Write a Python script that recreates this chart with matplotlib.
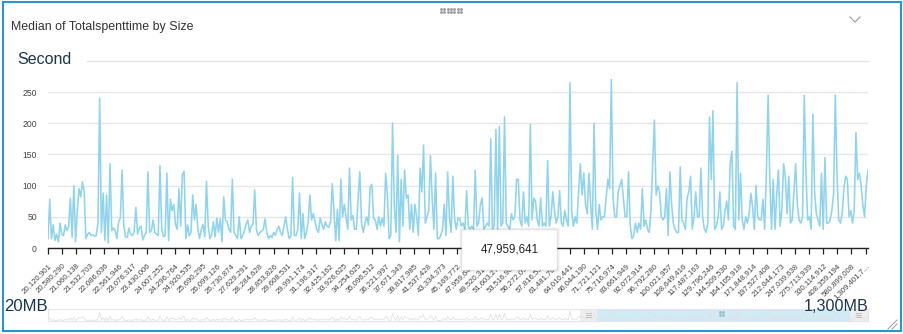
import numpy as np
import matplotlib
matplotlib.use("Agg")
import matplotlib.pyplot as plt
from matplotlib.patches import Rectangle, FancyBboxPatch
from matplotlib.lines import Line2D

W, H = 904, 334

# median total spent time (seconds) left to right
median_seconds = [
    15, 78, 15, 37, 12, 22, 10, 40, 22, 20, 37, 28, 35, 80, 17, 100, 10, 60, 95, 82,
    106, 90, 15, 22, 25, 20, 21, 19, 20, 40, 240, 25, 88, 12, 85, 8, 135, 28, 32, 28,
    15, 42, 48, 125, 35, 18, 17, 32, 22, 20, 26, 65, 22, 32, 35, 13, 20, 25, 122, 25,
    28, 45, 25, 22, 20, 132, 32, 18, 20, 120, 12, 78, 60, 70, 38, 30, 95, 35, 118, 123,
    15, 37, 20, 25, 85, 45, 70, 30, 15, 30, 38, 18, 107, 35, 15, 22, 42, 18, 48, 25,
    47, 10, 82, 45, 42, 30, 25, 110, 25, 20, 15, 50, 15, 20, 28, 38, 45, 25,
    35, 38, 93, 30, 20, 25, 27, 30, 47, 25, 15, 20, 17, 25, 20, 30, 35, 25, 20, 35,
    50, 30, 15, 20, 113, 20, 20, 30, 88, 15, 55, 15, 25, 40, 85, 45, 55, 42, 30, 25,
    48, 38, 30, 42, 35, 33, 42, 103, 60, 12, 62, 12, 110, 50, 70, 50, 30, 128, 45, 52,
    30, 30, 80, 122, 40, 25, 40, 50, 37, 97, 102, 48, 45, 30, 50, 35, 48, 35, 120, 85,
    15, 20, 200, 70, 25, 148, 10, 110, 35, 125, 80, 85, 30, 70, 25, 70, 50, 20, 128, 90,
    165, 40, 50, 60, 148, 80, 30, 120, 15, 15, 20, 30, 70, 20, 122, 50, 25, 115, 48, 30,
    48, 47, 35, 40, 30, 92, 35, 30, 35, 30, 125, 35, 40, 70, 80, 30, 35, 40, 35, 175,
    30, 35, 190, 30, 195, 35, 40, 210, 40, 35, 30, 55, 45, 50, 110, 110, 45, 35, 90, 40,
    50, 35, 198, 45, 80, 75, 45, 35, 80, 35, 40, 35, 140, 35, 50, 90, 60, 40, 50, 92,
    40, 35, 60, 45, 35, 265, 60, 35, 50, 40, 90, 135, 85, 120, 70, 55, 120, 70, 30, 200,
    60, 30, 70, 45, 50, 50, 80, 110, 95, 270, 80, 50, 50, 90, 100, 110, 80, 50, 50, 122,
    35, 15, 20, 40, 25, 40, 30, 95, 35, 45, 30, 25, 60, 135, 205, 85, 100, 90, 50,
    45, 50, 95, 20, 122, 70, 40, 30, 25, 25, 130, 45, 40, 30, 80, 90, 115, 30, 50, 90,
    50, 50, 128, 50, 30, 25, 40, 210, 110, 220, 30, 35, 50, 90, 30, 35, 60, 75, 45, 135,
    155, 35, 30, 265, 45, 120, 45, 30, 50, 40, 55, 88, 65, 30, 100, 50, 45, 45, 78, 30,
    120, 245, 110, 30, 110, 30, 85, 125, 35, 60, 135, 115, 55, 115, 40, 45, 90, 135, 70, 45,
    40, 50, 245, 120, 45, 50, 30, 215, 90, 55, 45, 35, 120, 30, 145, 40, 40, 45, 60, 85,
    245, 120, 45, 40, 55, 95, 115, 110, 50, 60, 40, 60, 185, 110, 120, 100, 70, 50, 100, 125,
]

size_labels = [
    "20,120,901", "20,580,290", "21,060,138", "21,532,703", "22,086,636",
    "22,561,946", "23,076,317", "23,430,006", "24,007,252", "24,296,764",
    "24,920,535", "25,690,295", "26,099,126", "26,730,874", "27,629,291",
    "28,284,628", "28,853,826", "29,608,531", "29,991,174", "31,196,317",
    "32,425,162", "33,926,625", "34,254,625", "35,096,512", "36,221,997",
    "37,671,343", "39,817,985", "41,537,428", "43,334,373", "45,169,772",
    "47,959,641", "49,520,317", "51,603,274", "53,516,981", "56,272,090",
    "57,816,533", "61,481,702", "64,010,441", "66,044,190", "71,721,121",
    "75,716,974", "83,661,949", "92,072,914", "96,792,280", "100,021,957",
    "108,649,416", "117,487,163", "129,796,246", "144,509,530", "164,105,918",
    "171,848,914", "197,527,408", "212,044,173", "247,039,638", "275,713,939",
    "330,114,912", "408,359,194", "580,899,008", "1,309,401,7...",
]

y_ticks = [0, 50, 100, 150, 200, 250]
title = "Median of Totalspenttime by Size"
y_title = "Second"
range_min_label = "20MB"
range_max_label = "1,300MB"
tooltip_label = "47,959,641"

plt.rcParams['font.family'] = ['Liberation Sans', 'DejaVu Sans']

fig = plt.figure(figsize=(W / 100, H / 100), dpi=100)


def fx(x):
    return x / W


def fy(y):
    return 1 - y / H


def box(x0, y0, x1, y1):
    return [fx(x0), fy(y1), fx(x1) - fx(x0), fy(y0) - fy(y1)]


line_color = '#8fd4ee'
navy = '#1b3550'

# main chart
ax = fig.add_axes(box(48, 73.3, 868, 248))
n = len(median_seconds)
xs = np.arange(n)
ax.plot(xs, median_seconds, color=line_color, lw=1.15)
ax.set_xlim(0, n - 1)
ax.set_ylim(0, 280)
tick_pos = np.linspace(0, (n - 1) * 0.997, len(size_labels))
ax.set_xticks(tick_pos)
ax.set_xticklabels(size_labels, rotation=45, ha='right', va='top',
                   rotation_mode='anchor', fontsize=5.6, color='#444444')
ax.tick_params(axis='x', length=4, width=0.9, color='#222222', pad=6)
ax.set_yticks(y_ticks)
ax.tick_params(axis='y', length=0, pad=8, labelsize=6.2, labelcolor='#444444')
ax.grid(axis='y', color='#e6e6e6', lw=1)
ax.set_axisbelow(True)
for s in ['top', 'right', 'left']:
    ax.spines[s].set_visible(False)
ax.spines['bottom'].set_color('#222222')
ax.spines['bottom'].set_linewidth(1)

# texts
fig.text(fx(11), fy(27), title, fontsize=8.9, color='#333333', va='center')
fig.text(fx(17), fy(59), y_title, fontsize=11.5, color=navy, va='center')
fig.add_artist(Line2D([fx(87), fx(868)], [fy(61), fy(61)], color='#e3e3e3', lw=1))
fig.text(fx(4), fy(306.5), range_min_label, fontsize=12, color=navy, va='center')
fig.text(fx(869), fy(306.5), range_max_label, fontsize=11.6, color=navy,
         va='center', ha='right')

# range slider with mini chart
ax2 = fig.add_axes(box(48, 309, 868, 321))
ax2.plot(xs, median_seconds, color='#e2e2e2', lw=0.6)
ax2.set_xlim(0, n - 1)
ax2.set_ylim(0, 320)
ax2.set_xticks([])
ax2.set_yticks([])
for s in ax2.spines.values():
    s.set_color('#e6e6e6')
    s.set_linewidth(0.8)
ax2.add_patch(Rectangle((fx(597), fy(321)), fx(850) - fx(597), fy(309) - fy(321),
                        transform=fig.transFigure, color='#cbe8f5', alpha=0.9, lw=0))
for hx0, hx1 in [(580, 597), (850, 868)]:
    ax2.add_patch(Rectangle((fx(hx0), fy(321)), fx(hx1) - fx(hx0), fy(309) - fy(321),
                            transform=fig.transFigure, color='#eeeeee', lw=0))
    cx = (hx0 + hx1) / 2
    for dy in (313, 315, 317):
        fig.add_artist(Line2D([fx(cx - 2.5), fx(cx + 2.5)], [fy(dy), fy(dy)],
                              color='#b8b8b8', lw=0.6, zorder=5))
for gx in (720, 723.5):
    for gy in (312, 315):
        fig.add_artist(Line2D([fx(gx)], [fy(gy)], marker='s', ms=0.9, color='#9fb9c6',
                              lw=0, zorder=5))

# tooltip
for k, a in enumerate([0.05, 0.04, 0.03]):
    d = k + 1
    fig.add_artist(FancyBboxPatch((fx(462 - d), fy(270 + d)), fx(557 + d) - fx(462 - d),
                                  fy(230 - d) - fy(270 + d),
                                  boxstyle='round,pad=0,rounding_size=0.004',
                                  transform=fig.transFigure, facecolor='black',
                                  edgecolor='none', alpha=a, zorder=9))
fig.add_artist(FancyBboxPatch((fx(462), fy(270)), fx(557) - fx(462), fy(230) - fy(270),
                              boxstyle='round,pad=0,rounding_size=0.003',
                              transform=fig.transFigure, facecolor='white',
                              edgecolor='#eeeeee', lw=0.5, zorder=10))
fig.text(fx(510), fy(250), tooltip_label, fontsize=8.3, color='#222222',
         ha='center', va='center', zorder=11)

# widget chrome
fig.add_artist(Rectangle((fx(3), fy(331)), fx(901) - fx(3), fy(2) - fy(331),
                         transform=fig.transFigure, fill=False,
                         edgecolor='#2a93d6', lw=1.5, zorder=12))
fig.add_artist(Line2D([fx(850), fx(855), fx(860)], [fy(17), fy(22), fy(17)],
                      color='#999999', lw=0.8))
for gx in np.arange(441, 464, 3.3):
    for gy in (8.5, 11.5):
        fig.add_artist(Line2D([fx(gx)], [fy(gy)], marker='s', ms=0.9,
                              color='#999999', lw=0))
fig.add_artist(Line2D([fx(888), fx(897)], [fy(329), fy(320)], color='#999999', lw=0.7))
fig.add_artist(Line2D([fx(892), fx(897)], [fy(329), fy(324)], color='#999999', lw=0.7))

fig.savefig("out.png", dpi=100)
